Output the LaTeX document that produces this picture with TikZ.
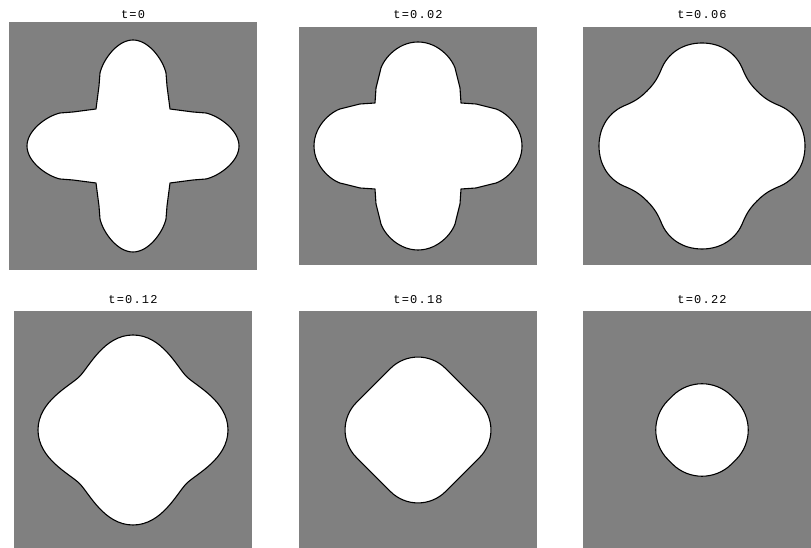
\documentclass[tikz,border=0pt]{standalone}
\usepackage{fontspec}
\newfontfamily\titlefont[LetterSpace=10]{Liberation Mono}
\definecolor{panelgray}{RGB}{128,128,128}
\begin{document}
\begin{tikzpicture}[x=1pt,y=1pt,
  panel/.style={fill=panelgray},
  blob/.style={fill=white,draw=black,line width=1.1pt,line join=round},
  ttl/.style={font=\titlefont\fontsize{12}{12}\selectfont,anchor=base,inner sep=0pt}]
\useasboundingbox (0,0) rectangle (811,548);
\clip (0,0) rectangle (811,548);
% panels
\fill[panel] (9,278) rectangle (257,526);
\fill[panel] (299,283) rectangle (537,521);
\fill[panel] (583,283) rectangle (821,521);
\fill[panel] (14,-1) rectangle (252,237);
\fill[panel] (299,-1) rectangle (537,237);
\fill[panel] (583,-1) rectangle (821,237);
% titles
\node[ttl] (t1) at (133,529.5) {t=0};
\node[ttl] (t2) at (418,529.5) {t=0.02};
\node[ttl] (t3) at (702,529.5) {t=0.06};
\node[ttl] (t4) at (133,244) {t=0.12};
\node[ttl] (t5) at (418,244) {t=0.18};
\node[ttl] (t6) at (702,244) {t=0.22};
% t=0
\begin{scope}[shift={(133,402)}]
\filldraw[blob] (-37,37) \foreach \a in {0,-90,-180,-270}{
  -- ([rotate=\a]-34,60) -- ([rotate=\a]-33,73)
  .. controls ([rotate=\a]-30,86) and ([rotate=\a]-16,106) .. ([rotate=\a]0,106)
  .. controls ([rotate=\a]16,106) and ([rotate=\a]30,86) .. ([rotate=\a]33,73)
  -- ([rotate=\a]34,60) -- ([rotate=\a]37,37)} -- cycle;
\end{scope}
% t=0.02
\begin{scope}[shift={(418,402)}]
\filldraw[blob] (-43,43) \foreach \a in {0,-90,-180,-270}{
  -- ([rotate=\a]-42,58) -- ([rotate=\a]-40,66) -- ([rotate=\a]-38,74)
  .. controls ([rotate=\a]-37,84) and ([rotate=\a]-22,104) .. ([rotate=\a]0,104)
  .. controls ([rotate=\a]22,104) and ([rotate=\a]37,84) .. ([rotate=\a]38,74)
  -- ([rotate=\a]40,66) -- ([rotate=\a]42,58) -- ([rotate=\a]43,43)} -- cycle;
\end{scope}
% t=0.06
\begin{scope}[shift={(702,402)}]
\filldraw[blob] (-55,55) \foreach \a in {0,-90,-180,-270}{
  .. controls ([rotate=\a]-50,60) and ([rotate=\a]-45,66) .. ([rotate=\a]-41,76)
  .. controls ([rotate=\a]-34.5,93) and ([rotate=\a]-19,103) .. ([rotate=\a]0,103)
  .. controls ([rotate=\a]19,103) and ([rotate=\a]34.5,93) .. ([rotate=\a]41,76)
  .. controls ([rotate=\a]45,66) and ([rotate=\a]50,60) .. ([rotate=\a]55,55)} -- cycle;
\end{scope}
% t=0.12
\begin{scope}[shift={(133,118)}]
\filldraw[blob] (-53.5,53.5) \foreach \a in {0,-90,-180,-270}{
  .. controls ([rotate=\a]-44,63) and ([rotate=\a]-29,95) .. ([rotate=\a]0,95)
  .. controls ([rotate=\a]29,95) and ([rotate=\a]44,63) .. ([rotate=\a]53.5,53.5)} -- cycle;
\end{scope}
% t=0.18
\begin{scope}[shift={(418,118)}]
\filldraw[blob,rotate=45,rounded corners=39pt] (-63,-63) rectangle (63,63);
\end{scope}
% t=0.22
\begin{scope}[shift={(702,118)}]
\filldraw[blob,rotate=45,rounded corners=42pt] (-45,-45) rectangle (45,45);
\end{scope}
\end{tikzpicture}
\end{document}
